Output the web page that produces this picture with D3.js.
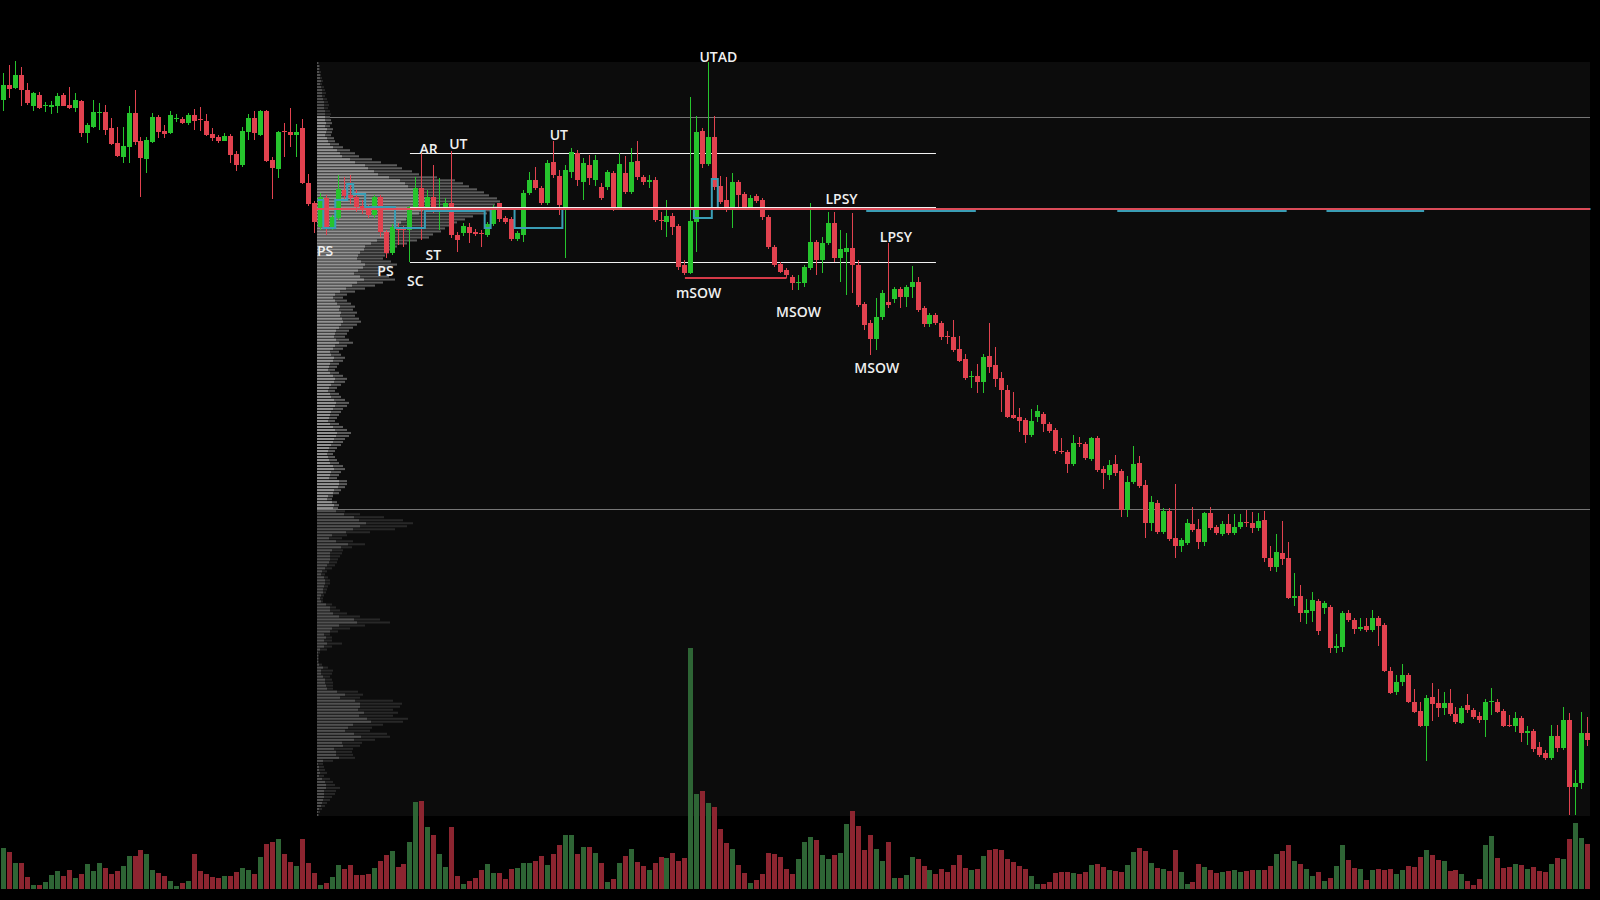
<!DOCTYPE html>
<html>
<head>
<meta charset="utf-8">
<script src="https://cdn.jsdelivr.net/npm/d3@7"></script>
<style>
  html, body { margin: 0; padding: 0; background: #000; }
  svg { display: block; }
</style>
</head>
<body>
<div id="chart"></div>
<script>
// candles (one per bar, left to right)
var open = [900,915,912,925,910,894,905,894,893,894, 905,895,892,899,867,873,887,888,872,857,
  843,853,887,859,841,858,883,869,867,881, 881,877,885,881,879,866,863,859,864,846,
  835,868,882,865,889,840,831,869,868,865, 872,817,797,773,802,772,782,810,805,803,
  794,792,785,803,768,747,773,772,770,793, 812,792,803,791,792,797,765,767,773,768,
  767,765,776,797,782,781,761,765,807,820, 812,797,838,824,790,828,847,818,835,820,
  813,813,827,793,827,808,839,823,818,820, 780,778,784,774,735,727,778,869,836,863,
  814,800,793,818,806,793,804,800,783,753, 736,730,723,717,717,732,758,740,757,777,
  742,748,752,735,696,677,661,683,698,701, 711,703,713,718,692,676,685,677,664,663,
  651,641,623,624,618,644,635,622,610,585, 583,580,565,583,586,576,570,549,548,536,
  557,556,541,562,531,525,536,529,490,518, 537,515,477,497,468,489,462,454,457,476,
  471,458,487,473,466,476,467,473,478,477, 472,480,442,433,447,442,402,404,387,389,
  399,392,393,352,353,387,380,371,374,370, 382,375,329,308,318,325,298,289,274,303,
  297,292,297,286,277,295,290,284,280,298, 298,289,275,274,282,267,269,253,247,242,
  264,252,280,213,217,267];
var high = [927,935,939,933,917,908,908,898,899,907, 907,913,907,900,877,900,897,895,882,873,
  873,894,910,863,863,887,885,875,889,886, 883,887,891,893,886,872,865,867,866,849,
  873,886,889,890,890,843,869,877,892,876, 881,826,799,807,805,785,825,823,825,810,
  800,795,805,805,770,776,777,774,794,823, 847,810,835,822,802,849,768,777,777,771,
  770,778,795,797,784,783,769,810,828,833, 814,840,859,830,835,852,850,842,845,845,
  817,830,829,847,844,852,859,825,825,823, 788,800,787,776,740,903,884,872,938,884,
  824,823,827,820,808,805,806,802,785,755, 738,732,725,725,735,797,760,763,788,788,
  770,767,787,740,698,680,702,710,757,713, 713,715,734,723,694,687,687,679,669,680,
  664,646,629,636,646,677,653,628,615,608, 592,582,591,595,588,578,572,562,550,565,
  563,558,563,564,534,540,545,531,524,554, 544,520,504,500,492,492,516,462,481,493,
  481,488,493,475,479,486,486,486,490,488, 487,489,454,466,479,458,427,415,401,408,
  401,399,395,366,389,390,382,382,382,390, 384,377,333,325,336,327,311,298,305,317,
  311,308,311,293,294,306,292,288,301,312, 301,291,285,288,284,274,271,258,250,275,
  275,293,287,230,288,283];
var low = [889,902,911,894,895,889,891,888,886,887, 894,891,888,863,857,872,870,865,855,843,
  837,837,855,803,827,857,862,862,866,878, 876,875,870,869,864,859,857,859,837,829,
  833,860,860,864,838,801,822,843,853,843, 816,794,767,770,765,770,780,800,796,788,
  786,782,782,763,742,745,755,753,738,790, 760,788,787,770,788,762,748,764,757,764,
  753,763,774,778,776,759,759,758,805,810, 795,795,822,785,742,822,814,800,815,814,
  800,810,789,792,806,806,820,815,812,778, 770,763,765,730,725,726,748,832,834,810,
  796,788,772,792,791,791,797,780,751,733, 727,722,710,710,713,730,725,727,755,738,
  718,705,707,693,670,645,650,680,692,697, 692,693,702,688,673,673,675,660,656,648,
  638,620,612,607,607,627,613,588,582,581, 568,557,563,578,568,567,546,546,527,534,
  553,540,539,528,511,520,524,483,483,516, 512,462,469,466,466,459,442,448,455,468,
  451,454,470,465,464,465,465,471,473,467, 469,438,429,428,435,401,394,378,376,378,
  365,386,347,347,348,378,366,369,368,368, 354,328,306,305,314,297,287,273,239,279,
  283,285,284,276,276,287,281,277,263,285, 287,273,273,268,258,255,248,243,240,240,
  248,250,185,185,211,254];
var close = [915,911,925,910,897,907,892,895,895,904, 894,892,900,867,875,888,888,870,856,844,
  854,887,858,842,860,883,868,866,885,882, 877,885,879,880,865,862,859,864,845,835,
  869,882,867,889,839,832,868,868,865,868, 817,796,778,803,773,783,811,804,802,793,
  790,785,803,768,747,773,770,770,793,812, 793,803,790,793,797,765,760,774,767,766,
  766,776,791,781,778,761,767,807,820,812, 797,837,825,795,830,848,820,837,822,840,
  802,828,793,836,808,838,823,818,820,780, 779,784,773,733,727,779,868,836,863,813,
  798,793,818,805,793,802,799,783,753,735, 728,725,717,718,733,758,740,757,777,742,
  751,752,735,695,675,661,683,707,695,711, 703,713,718,690,676,685,677,663,663,650,
  639,622,624,618,643,633,621,610,583,582, 579,565,579,589,576,569,549,548,536,557,
  556,542,562,530,527,535,527,490,518,536, 514,477,498,468,489,461,454,460,477,470,
  458,487,472,467,476,467,473,478,477,472, 479,442,433,448,441,402,404,387,390,400,
  369,397,352,354,387,380,371,373,370,382, 374,329,307,318,325,298,288,274,302,296,
  292,297,286,278,292,290,283,280,298,299, 288,274,274,282,267,269,251,245,242,264,
  252,280,213,217,267,260];
var volume = [41,37,26,26,12,4,4,7,14,18, 13,19,11,15,25,18,26,21,15,18,
  23,33,33,39,35,19,16,13,8,3, 6,8,35,18,15,12,11,13,13,17,
  21,19,15,32,45,47,50,35,27,23, 50,26,16,4,6,12,24,20,24,14,
  14,15,21,28,34,38,22,25,47,87, 88,62,54,35,22,62,13,5,8,11,
  19,25,16,16,10,20,21,26,26,28, 33,24,35,44,54,54,35,42,42,36,
  26,7,10,26,33,40,27,23,19,26, 32,31,36,28,31,241,95,98,86,82,
  60,46,40,24,16,6,9,15,36,35, 32,20,15,30,47,52,49,34,30,34,
  36,65,78,63,39,54,40,28,47,11, 11,14,32,30,23,19,15,20,17,24,
  34,21,19,20,33,39,40,39,30,27, 23,20,13,5,5,7,16,17,17,16,
  15,17,24,25,22,19,18,17,24,37, 41,38,26,21,20,18,39,17,5,7,
  25,22,19,16,17,18,19,17,18,19, 19,19,23,35,38,44,28,25,20,13,
  17,8,11,23,44,29,21,20,9,19, 20,19,20,15,19,23,22,32,39,34,
  29,28,18,19,15,8,4,10,44,53, 31,21,22,25,24,20,22,18,17,25,
  31,30,50,66,51,45];

// volume profile rows, top to bottom (total and up part)
var profTotal = [2,3,3,4,4,5,6,5,7,8,9,8,10,11,12,11,13,14,13,
  14,15,13,16,15,14,17,18,22,26, 33,38,42,55,64,80,85,95,102,120,
  138,146,152,160,167,172,180,183,178,182, 176,170,156,148,140,135,128,124,116,112,
  100,90,80,78,72,68,66,74,80,76, 68,62,72,78,66,58,48,38,30,26,
  30,34,38,36,40,38,42,44,40,36, 32,30,28,32,36,30,26,22,24,28,
  26,22,20,18,22,26,30,28,24,20, 18,22,24,28,32,30,26,24,22,20,
  18,22,26,30,34,32,28,26,24,20, 18,16,18,20,22,26,28,24,22,20,
  30,30,28,24,22,16,15,20,22,21, 28,43,67,86,96,90,78,53,30,25,
  36,48,35,26,25,23,21,20,18,15, 10,8,11,13,13,11,10,9,7,6,
  6,15,19,23,30,43,63,73,48,33, 21,13,15,15,25,15,10,3,2,2,
  2,5,11,16,15,13,15,16,16,16, 41,46,43,76,85,83,76,81,76,91,
  86,66,55,53,70,73,58,45,43,36, 35,36,38,16,6,7,8,10,7,13,
  16,18,23,19,18,15,13,10,8,5, 3,2];
var profUp = [1,2,2,2,3,3,4,3,4,5,5,5,6,7,7,7,8,8,8,
  8,9,8,10,9,8,10,11,13,16, 20,23,25,33,38,48,51,57,61,72,
  83,88,91,96,100,103,108,110,107,109, 106,102,94,89,84,81,77,74,70,67,
  60,54,48,47,43,41,40,44,48,46, 41,37,43,47,40,35,29,23,18,16,
  18,20,23,22,24,23,25,26,24,22, 19,18,17,19,22,18,16,13,14,17,
  16,13,12,11,13,16,18,17,14,12, 11,13,14,17,19,18,16,14,13,12,
  11,13,16,18,20,19,17,16,14,12, 11,10,11,12,13,16,17,14,13,12,
  22,22,21,17,16,11,10,15,17,16, 19,27,37,42,49,43,36,29,15,12,
  19,31,24,15,13,13,13,12,10,8, 5,4,7,8,8,7,6,6,4,3,
  4,9,13,13,16,22,37,40,22,15, 13,7,9,7,10,7,3,1,1,1,
  1,2,6,4,4,6,8,8,9,10, 20,28,23,38,43,43,41,47,42,50,
  54,36,31,28,37,44,37,25,26,17, 19,19,22,6,1,2,2,3,2,5,
  8,9,9,7,7,7,6,5,4,2, 1,1];

// levels
var vaPrices = [883, 491];          // value area high / low
var pocPrice = 791;
var rangePrices = [847, 793, 738];   // trading range lines
var rangeFrom = 68, rangeTo = 156;
var sowPrice = 722, sowFrom = 114, sowTo = 131;

// developing poc, step starts at bar index
var dpocStart = [53,54,56,58,59,61,66,71,81,82,86,94,116,119,120,145,163,187,215,222,238];
var dpocPrice = [800,772,800,816,806,793,772,789,772,792,772,791,782,821,791,789,791,789,791,789,791];

// wyckoff labels
var labelText = ["UTAD","AR","UT","UT","LPSY","LPSY","PS","PS","ST","SC","mSOW","MSOW","MSOW"];
var labelIdx = [119.6,71.1,76.1,92.9,140.2,149.3,53.8,63.9,71.9,68.9,116.3,133.0,146.1];
var labelPrice = [944,852,857,866,802,764,750,730,746,720,708,689,633];

var svgWidth = 1600;
var svgHeight = 900;
var panel = { left: 317, right: 1590, top: 62, bottom: 816 };
var volBase = 889;

var upColor = "#26c42d", downColor = "#e1424f";
var volUp = "#2e6535", volDown = "#8c2530";

var N = open.length;
var bars = d3.range(N);

var svg = d3.select("#chart").append("svg")
  .attr("width", svgWidth)
  .attr("height", svgHeight);

svg.append("rect").attr("width", svgWidth).attr("height", svgHeight).attr("fill", "#000");

var xScale = d3.scaleLinear().domain([0, N - 1]).range([3.5, 1587.5]);
var yScale = d3.scaleLinear().domain([100, 1000]).range([900, 0]);
var volScale = d3.scaleLinear().domain([0, 250]).range([volBase, volBase - 250]);
var rowScale = d3.scaleBand().domain(d3.range(profTotal.length))
  .range([panel.top, panel.bottom]).paddingInner(0.33);
var profScale = d3.scaleLinear().domain([0, 200]).range([panel.left, panel.left + 200]);

// panel background
svg.append("rect")
  .attr("x", panel.left).attr("y", panel.top)
  .attr("width", panel.right - panel.left).attr("height", panel.bottom - panel.top)
  .attr("fill", "#0c0c0c");

// value area lines
svg.selectAll(".va").data(vaPrices).enter().append("line")
  .attr("x1", panel.left).attr("x2", panel.right)
  .attr("y1", d => Math.round(yScale(d)) + 0.5).attr("y2", d => Math.round(yScale(d)) + 0.5)
  .attr("stroke", "#777").attr("stroke-width", 1);

// volume profile
var vaTop = yScale(vaPrices[0]), vaBot = yScale(vaPrices[1]);
function inVA(r) {
  var c = rowScale(r) + rowScale.bandwidth() / 2;
  return c >= vaTop && c <= vaBot;
}
var rows = svg.append("g").selectAll("g").data(d3.range(profTotal.length)).enter().append("g");
rows.append("rect")
  .attr("x", profScale(0))
  .attr("y", r => rowScale(r))
  .attr("width", r => profScale(profTotal[r]) - profScale(0))
  .attr("height", rowScale.bandwidth())
  .attr("fill", r => inVA(r) ? "#5c5c5c" : "#282828");
rows.append("rect")
  .attr("x", profScale(0))
  .attr("y", r => rowScale(r))
  .attr("width", r => profScale(profUp[r]) - profScale(0))
  .attr("height", rowScale.bandwidth())
  .attr("fill", r => inVA(r) ? "#929292" : "#515151");

// trading range lines
svg.selectAll(".range").data(rangePrices).enter().append("line")
  .attr("x1", xScale(rangeFrom)).attr("x2", xScale(rangeTo))
  .attr("y1", d => Math.round(yScale(d)) + 0.5).attr("y2", d => Math.round(yScale(d)) + 0.5)
  .attr("stroke", "#f2f2f2").attr("stroke-width", 1);

// volume bars
svg.append("g").selectAll("rect").data(bars).enter().append("rect")
  .attr("x", i => Math.floor(xScale(i)) - 2)
  .attr("width", 5)
  .attr("y", i => Math.round(volScale(volume[i])))
  .attr("height", i => volBase - Math.round(volScale(volume[i])))
  .attr("fill", i => close[i] >= open[i] ? volUp : volDown);

// candles
var cg = svg.append("g");
cg.selectAll("line").data(bars).enter().append("line")
  .attr("x1", i => Math.floor(xScale(i)) + 0.5)
  .attr("x2", i => Math.floor(xScale(i)) + 0.5)
  .attr("y1", i => Math.round(yScale(Math.max(high[i], open[i], close[i]))))
  .attr("y2", i => Math.round(yScale(Math.min(low[i], open[i], close[i]))))
  .attr("stroke", i => close[i] >= open[i] ? upColor : downColor)
  .attr("stroke-width", 1);
cg.selectAll("rect").data(bars).enter().append("rect")
  .attr("x", i => Math.floor(xScale(i)) - 2)
  .attr("width", 5)
  .attr("y", i => Math.round(yScale(Math.max(open[i], close[i]))))
  .attr("height", i => Math.max(1, Math.round(Math.abs(yScale(open[i]) - yScale(close[i])))))
  .attr("fill", i => close[i] >= open[i] ? upColor : downColor);

// mSOW support line
svg.append("line")
  .attr("x1", xScale(sowFrom)).attr("x2", xScale(sowTo))
  .attr("y1", yScale(sowPrice)).attr("y2", yScale(sowPrice))
  .attr("stroke", "#d63a48").attr("stroke-width", 2);

// developing poc
var dpocPts = dpocStart.map((s, k) => [xScale(s - 0.5), yScale(dpocPrice[k])]);
dpocPts.push([xScale(N - 0.5), yScale(dpocPrice[dpocPrice.length - 1])]);
svg.append("path")
  .attr("d", d3.line().curve(d3.curveStepAfter)(dpocPts))
  .attr("fill", "none")
  .attr("stroke", "#3a9db5")
  .attr("stroke-width", 2);

// poc
svg.append("line")
  .attr("x1", panel.left).attr("x2", panel.right)
  .attr("y1", yScale(pocPrice)).attr("y2", yScale(pocPrice))
  .attr("stroke", "#dc4c59").attr("stroke-width", 2);

// mid range line drawn again on top of poc
svg.append("line")
  .attr("x1", xScale(rangeFrom)).attr("x2", xScale(rangeTo))
  .attr("y1", Math.round(yScale(rangePrices[1])) + 0.5).attr("y2", Math.round(yScale(rangePrices[1])) + 0.5)
  .attr("stroke", "#f2f2f2").attr("stroke-width", 1);

// labels
svg.append("g").selectAll("text").data(labelText).enter().append("text")
  .attr("x", (d, k) => xScale(labelIdx[k]))
  .attr("y", (d, k) => yScale(labelPrice[k]))
  .attr("text-anchor", "middle")
  .attr("dominant-baseline", "central")
  .attr("fill", "#f0f0f0")
  .attr("font-family", "'Open Sans', 'DejaVu Sans', sans-serif")
  .attr("font-size", "14px")
  .attr("font-weight", 600)
  .text(d => d);
</script>
</body>
</html>
